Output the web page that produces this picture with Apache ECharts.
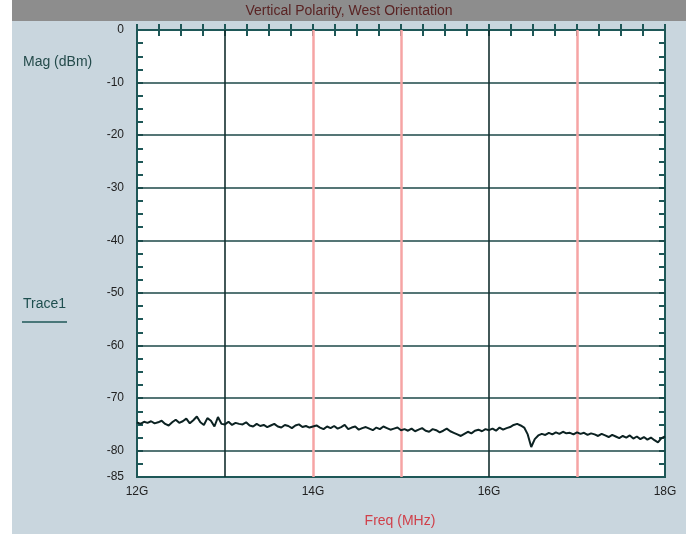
<!DOCTYPE html>
<html><head><meta charset="utf-8">
<script src="https://cdn.jsdelivr.net/npm/echarts@6/dist/echarts.min.js"></script>
<style>html,body{margin:0;padding:0;background:#fff}#c{width:691px;height:534px}</style>
</head><body><div id="c"></div>
<script>
// Sweep definition (GHz)
const sweepStart = 12, sweepStop = 18;
// Trace1 magnitude (dBm), one array per GHz span
const mag12 = [-74.6,-74.9,-74.5,-74.7,-74.4,-74.8,-74.6,-74.3,-74.9,-75.2,-74.6,-74.1,-74.7,-74.4,-73.9,-74.8,-74.2,-73.5,-74.6,-75.1,-73.8,-74.3,-75.4,-73.6,-74.9,-75.0];
const mag13 = [-74.5,-75.1,-74.7,-74.9,-75.0,-74.6,-75.2,-75.4,-74.9,-75.3,-75.1,-75.5,-75.2,-74.9,-75.4,-75.6,-75.1,-75.3,-75.7,-75.2,-75.0,-75.5,-75.3,-75.6,-75.4];
const mag14 = [-75.2,-75.6,-75.9,-75.4,-75.7,-75.3,-75.8,-75.5,-75.1,-75.9,-75.6,-75.4,-76.0,-75.7,-75.5,-75.8,-76.1,-75.6,-75.9,-75.4,-75.7,-76.0,-75.8,-75.6,-76.1];
const mag15 = [-75.9,-76.2,-75.8,-76.3,-76.0,-75.7,-76.2,-76.4,-75.9,-76.1,-76.5,-76.2,-75.8,-76.3,-76.6,-76.9,-77.2,-76.8,-76.4,-76.7,-76.2,-76.0,-76.3,-75.9,-76.1];
const mag16 = [-75.8,-76.2,-75.6,-76.0,-75.7,-75.5,-75.1,-74.9,-75.2,-75.6,-76.9,-79.3,-77.8,-77.1,-76.8,-77.0,-76.6,-76.9,-76.5,-76.8,-76.4,-76.7,-76.6,-76.9,-76.5];
const mag17 = [-76.8,-76.6,-77.0,-76.7,-76.9,-77.2,-76.8,-77.1,-77.4,-77.0,-77.3,-77.6,-77.2,-77.5,-77.1,-77.7,-77.3,-77.8,-77.4,-77.9,-77.5,-78.0,-78.4,-77.6,-77.3];
// Axis labels
const yLabelValues = [0,-10,-20,-30,-40,-50,-60,-70,-80,-85];
const xLabelValues = {12:'12G',14:'14G',16:'16G',18:'18G'};
const hGrid = [-10,-20,-30,-40,-50,-60,-70,-80];
const vGridDark = [13,16];
const vGridPink = [14,15,17];

const mags = [].concat(mag12, mag13, mag14, mag15, mag16, mag17);
const n = mags.length;
const traceData = mags.map((v,i)=>[sweepStart + (sweepStop - sweepStart) * i / (n - 1), v]);

const chart = echarts.init(document.getElementById('c'), null, {renderer:'canvas'});
const tickStyle = {show:true, inside:true, length:6, lineStyle:{color:'#1e5757', width:2}};
const markData = [];
hGrid.forEach(v=>markData.push({yAxis:v, lineStyle:{color:'#1d4848', width:1.6, type:'solid'}}));
vGridPink.forEach(v=>markData.push({xAxis:v, lineStyle:{color:'#f6a4a4', width:2.5, type:'solid'}}));
vGridDark.forEach(v=>markData.push({xAxis:v, lineStyle:{color:'#132f2f', width:1.6, type:'solid'}}));
const font = '"Liberation Sans", Arial';

chart.setOption({
  backgroundColor:'#c9d6de',
  animation:false,
  grid:{left:137, right:26, top:30, bottom:57, show:true, backgroundColor:'#ffffff', borderColor:'#1e5757', borderWidth:2},
  xAxis:[{
    type:'value', min:sweepStart, max:sweepStop, interval:0.25, position:'bottom',
    axisLine:{show:false}, axisTick:tickStyle, splitLine:{show:false},
    axisLabel:{margin:9, fontSize:12, color:'#222', fontFamily:font,
      formatter:v=>xLabelValues[v] || ''}
  },{
    type:'value', min:sweepStart, max:sweepStop, interval:0.25, position:'top',
    axisLine:{show:false}, axisTick:tickStyle, splitLine:{show:false}, axisLabel:{show:false}
  }],
  yAxis:[{
    type:'value', min:-85, max:0, interval:2.5, position:'left',
    axisLine:{show:false}, axisTick:tickStyle, splitLine:{show:false},
    axisLabel:{margin:13, fontSize:12, color:'#222', fontFamily:font,
      formatter:v=>yLabelValues.indexOf(v) >= 0 ? String(v) : ''}
  },{
    type:'value', min:-85, max:0, interval:2.5, position:'right',
    axisLine:{show:false}, axisTick:tickStyle, splitLine:{show:false}, axisLabel:{show:false}
  }],
  graphic:[
    {type:'rect', shape:{x:0,y:0,width:12,height:534}, style:{fill:'#ffffff'}, z:-10, silent:true},
    {type:'rect', shape:{x:686,y:0,width:5,height:534}, style:{fill:'#ffffff'}, z:-10, silent:true},
    {type:'rect', shape:{x:12,y:0,width:674,height:21}, style:{fill:'#8d8d8d'}, z:-10, silent:true},
    {type:'text', x:349, y:11, style:{text:'Vertical Polarity, West Orientation', fill:'#5a2424', font:'14px ' + font, textAlign:'center', textVerticalAlign:'middle'}, z:10},
    {type:'text', x:23, y:62, style:{text:'Mag (dBm)', fill:'#244b4b', font:'14px ' + font, textAlign:'left', textVerticalAlign:'middle'}, z:10},
    {type:'text', x:23, y:304, style:{text:'Trace1', fill:'#1e4f4f', font:'14px ' + font, textAlign:'left', textVerticalAlign:'middle'}, z:10},
    {type:'line', shape:{x1:22,y1:322,x2:67,y2:322}, style:{stroke:'#1e5757', lineWidth:1.5}, z:10},
    {type:'text', x:400, y:521, style:{text:'Freq (MHz)', fill:'#d0404a', font:'14px ' + font, textAlign:'center', textVerticalAlign:'middle'}, z:10}
  ],
  series:[{
    type:'line', data:[], z:1, silent:true,
    markLine:{silent:true, symbol:['none','none'], label:{show:false}, animation:false, data:markData}
  },{
    name:'Trace1', type:'line', data:traceData, z:5, showSymbol:false, symbol:'none',
    lineStyle:{color:'#0c2222', width:2}
  }]
});
</script></body></html>
